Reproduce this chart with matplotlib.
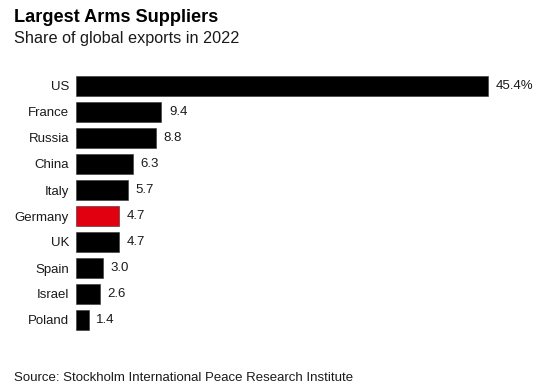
import matplotlib.pyplot as plt

plt.rcParams['font.family'] = ['Liberation Sans', 'DejaVu Sans']

countries = ['US', 'France', 'Russia', 'China', 'Italy', 'Germany', 'UK', 'Spain', 'Israel', 'Poland']
shares = [45.4, 9.4, 8.8, 6.3, 5.7, 4.7, 4.7, 3.0, 2.6, 1.4]
labels = ['45.4%', '9.4', '8.8', '6.3', '5.7', '4.7', '4.7', '3.0', '2.6', '1.4']
highlight = 'Germany'

fig = plt.figure(figsize=(5.52, 3.91), dpi=100)
ax = fig.add_axes([76 / 552, 1 - 333 / 391, 453.5 / 552, 260 / 391])

colors = ['#e00010' if c == highlight else 'black' for c in countries]
pos = range(len(countries))
ax.barh(pos, shares, height=0.8, color=colors, edgecolor='#333333', linewidth=0.4)

for i, (v, lab) in enumerate(zip(shares, labels)):
    ax.text(v + 0.85, i, lab, va='center', ha='left', fontsize=9.5, color='#1a1a1a')

ax.set_xlim(0, 50)
ax.set_ylim(9.5, -0.5)
ax.set_yticks(list(pos))
ax.set_yticklabels(countries, fontsize=9.5, color='#1a1a1a')
ax.tick_params(axis='y', length=0, pad=5)
ax.set_xticks([])
for s in ax.spines.values():
    s.set_visible(False)

fig.text(14 / 552, 1 - 17 / 391, 'Largest Arms Suppliers', fontsize=13.1, fontweight='bold',
         va='center', ha='left', color='black')
fig.text(14 / 552, 1 - 38 / 391, 'Share of global exports in 2022', fontsize=11.7,
         va='center', ha='left', color='#1a1a1a')
fig.text(14 / 552, 1 - 378 / 391, 'Source: Stockholm International Peace Research Institute',
         fontsize=9.5, va='center', ha='left', color='#1a1a1a')

fig.savefig('out.png', dpi=100)
